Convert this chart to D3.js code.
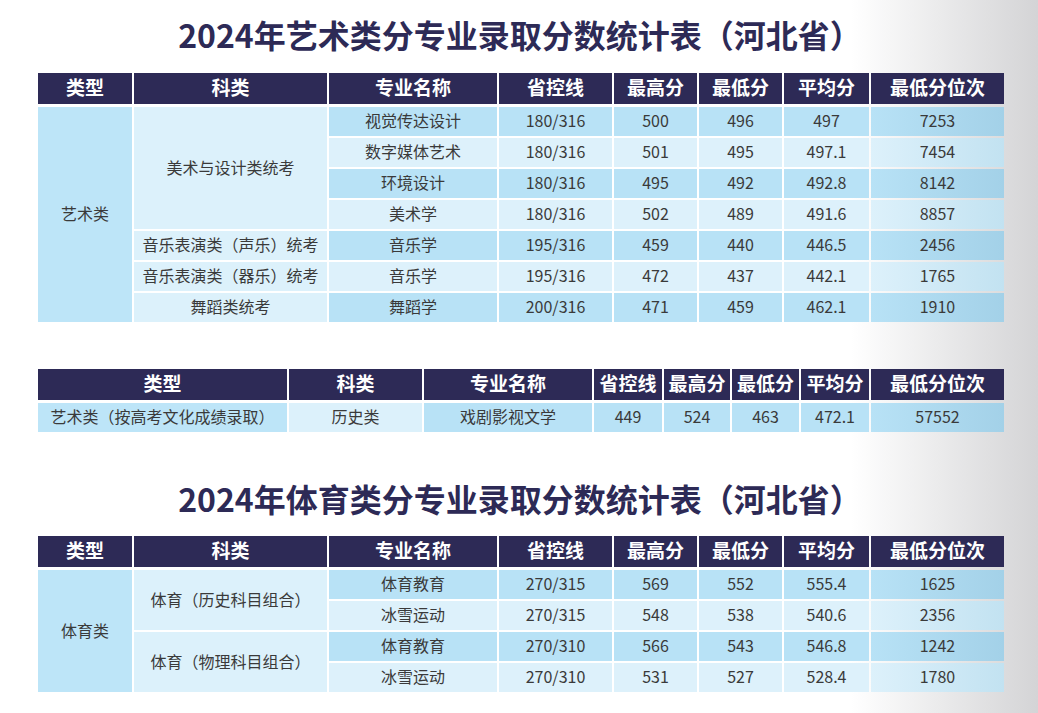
<!DOCTYPE html>
<html><head><meta charset="utf-8">
<script src="https://cdn.jsdelivr.net/npm/d3@7"></script>
<style>body{margin:0;background:#fff}svg{display:block}</style>
</head><body>
<svg id="chart" width="1038" height="713"></svg>
<script>
// column headers and data for each table
var headers1 = ["类型", "科类", "专业名称", "省控线", "最高分", "最低分", "平均分", "最低分位次"];
var types1 = [{name: "艺术类", span: 7}];
var groups1 = [
	{name: "美术与设计类统考", span: 4},
	{name: "音乐表演类（声乐）统考", span: 1},
	{name: "音乐表演类（器乐）统考", span: 1},
	{name: "舞蹈类统考", span: 1}
];
var majors1 = ["视觉传达设计", "数字媒体艺术", "环境设计", "美术学", "音乐学", "音乐学", "舞蹈学"];
var lines1 = ["180/316", "180/316", "180/316", "180/316", "195/316", "195/316", "200/316"];
var max1 = [500, 501, 495, 502, 459, 472, 471];
var min1 = [496, 495, 492, 489, 440, 437, 459];
var avg1 = ["497", "497.1", "492.8", "491.6", "446.5", "442.1", "462.1"];
var rank1 = [7253, 7454, 8142, 8857, 2456, 1765, 1910];

var types2 = [{name: "艺术类（按高考文化成绩录取）", span: 1}];
var groups2 = [{name: "历史类", span: 1}];
var majors2 = ["戏剧影视文学"];
var lines2 = ["449"];
var max2 = [524];
var min2 = [463];
var avg2 = ["472.1"];
var rank2 = [57552];

var types3 = [{name: "体育类", span: 4}];
var groups3 = [{name: "体育（历史科目组合）", span: 2}, {name: "体育（物理科目组合）", span: 2}];
var majors3 = ["体育教育", "冰雪运动", "体育教育", "冰雪运动"];
var lines3 = ["270/315", "270/315", "270/310", "270/310"];
var max3 = [569, 548, 566, 531];
var min3 = [552, 538, 543, 527];
var avg3 = ["555.4", "540.6", "546.8", "528.4"];
var rank3 = [1625, 2356, 1242, 1780];

var svg = d3.select("#chart");
var defs = svg.append("defs");
var bg = defs.append("linearGradient").attr("id", "bg");
bg.append("stop").attr("offset", "0.82").attr("stop-color", "#ffffff");
bg.append("stop").attr("offset", "1").attr("stop-color", "#d4d4d6");
var lastDark = defs.append("linearGradient").attr("id", "lastDark");
lastDark.append("stop").attr("offset", "0").attr("stop-color", "#b8e2f6");
lastDark.append("stop").attr("offset", "1").attr("stop-color", "#a3d1e8");
var lastLight = defs.append("linearGradient").attr("id", "lastLight");
lastLight.append("stop").attr("offset", "0").attr("stop-color", "#ddf1fb");
lastLight.append("stop").attr("offset", "1").attr("stop-color", "#c2e2f1");
svg.append("rect").attr("width", 1038).attr("height", 713).attr("fill", "url(#bg)");

var font = "'Noto Sans CJK SC', 'Noto Sans', sans-serif";
var navy = "#2d2a56";

function title(text, y) {
	svg.append("text").attr("x", 520).attr("y", y).attr("text-anchor", "middle")
		.attr("font-family", font).attr("font-size", 32).attr("font-weight", "bold")
		.attr("fill", navy).text(text);
}

// draw one table; edges are the column boundaries in px
function drawTable(edges, top, headH, rowH, types, groups, cols) {
	var g = svg.append("g");
	var n = cols[0].length;
	var x = function(i) { return edges[i]; };
	var y = d3.scaleLinear().domain([0, n]).range([top + headH + 2, top + headH + 2 + n * rowH]);

	function cell(x0, x1, y0, y1, fill, text, head) {
		g.append("rect").attr("x", x0 + 1).attr("y", y0 + 1)
			.attr("width", x1 - x0 - 2).attr("height", y1 - y0 - 2).attr("fill", fill);
		g.append("text").attr("x", (x0 + x1) / 2).attr("y", (y0 + y1) / 2)
			.attr("dy", "0.36em").attr("text-anchor", "middle").attr("font-family", font)
			.attr("font-size", head ? 19 : 16).attr("font-weight", head ? "bold" : "normal")
			.attr("fill", head ? "#fff" : "#3a3a3a").text(text);
	}

	headers1.forEach(function(h, i) {
		cell(x(i), x(i + 1), top, top + headH + 1, navy, h, true);
	});
	var r = 0;
	types.forEach(function(t) {
		cell(x(0), x(1), y(r), y(r + t.span), "#bde5f8", t.name);
		r += t.span;
	});
	r = 0;
	groups.forEach(function(t) {
		cell(x(1), x(2), y(r), y(r + t.span), "#dcf1fb", t.name);
		r += t.span;
	});
	for (var i = 0; i < n; i++) {
		var dark = i % 2 === 0;
		cols.forEach(function(c, j) {
			var last = j === cols.length - 1;
			var fill = last ? (dark ? "url(#lastDark)" : "url(#lastLight)") : (dark ? "#b8e2f6" : "#ddf1fb");
			cell(x(j + 2), x(j + 3), y(i), y(i + 1), fill, c[i]);
		});
	}
}

title("2024年艺术类分专业录取分数统计表（河北省）", 48);
drawTable([37, 133, 328, 498, 613, 698, 783, 870, 1005], 72, 32, 31,
	types1, groups1, [majors1, lines1, max1, min1, avg1, rank1]);
drawTable([37, 288, 423, 593, 663, 731, 800, 870, 1005], 368, 32, 31,
	types2, groups2, [majors2, lines2, max2, min2, avg2, rank2]);
title("2024年体育类分专业录取分数统计表（河北省）", 512);
drawTable([37, 133, 328, 498, 613, 698, 783, 870, 1005], 535, 32, 31,
	types3, groups3, [majors3, lines3, max3, min3, avg3, rank3]);
</script>
</body></html>
